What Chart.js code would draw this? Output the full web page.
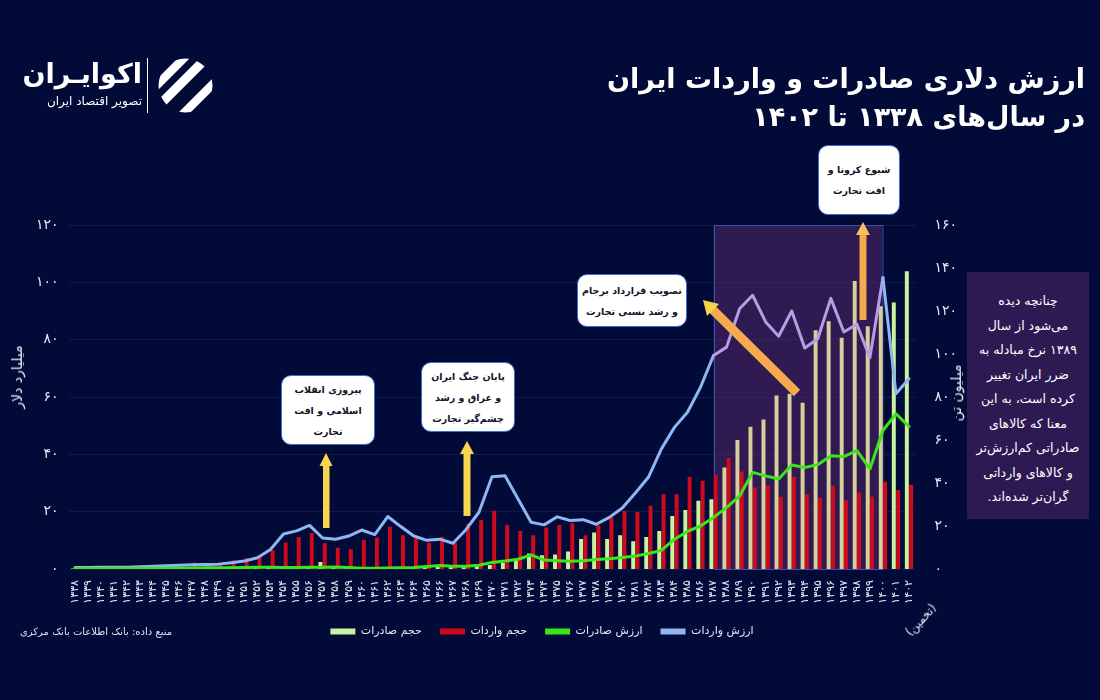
<!DOCTYPE html>
<html lang="fa">
<head>
<meta charset="utf-8">
<script src="https://cdn.jsdelivr.net/npm/chart.js@4.4.1/dist/chart.umd.min.js"></script>
<style>
html,body{margin:0;padding:0;background:#020a38;}
#wrap{position:relative;width:1100px;height:700px;overflow:hidden;background:#020a38;font-family:"DejaVu Sans",sans-serif;}
#c{position:absolute;left:0;top:0;}
.abs{position:absolute;white-space:nowrap;}
.title{right:15px;top:60px;color:#fff;font-weight:bold;font-size:27px;line-height:38px;text-align:right;direction:rtl;}
.note{position:absolute;box-sizing:border-box;background:#fff;border:1.5px solid #3d6fc9;border-radius:10px;color:#15152a;font-weight:bold;font-size:9.5px;line-height:21px;text-align:center;direction:rtl;display:flex;align-items:center;justify-content:center;white-space:nowrap;}
.rot{color:#e8e9f2;font-size:14px;transform:translate(-50%,-50%) rotate(-90deg);direction:rtl;}
#side{left:967px;top:272px;width:122px;height:247px;background:#2e1a53;color:#fff;font-size:12.5px;line-height:24.5px;text-align:center;direction:rtl;padding-top:17px;box-sizing:border-box;white-space:nowrap;}
</style>
</head>
<body>
<div id="wrap">
  <canvas id="c" width="1100" height="700"></canvas>

  <div class="abs title">ارزش دلاری صادرات و واردات ایران<br>در سال‌های ۱۳۳۸ تا ۱۴۰۲</div>

  <div class="abs" style="left:10px;top:55px;width:132px;text-align:right;direction:rtl;color:#fff;">
    <div style="font-size:27px;font-weight:bold;line-height:37px;">اکوایـران</div>
    <div style="font-size:12px;line-height:18px;">تصویر اقتصاد ایران</div>
  </div>
  <div class="abs" style="left:147px;top:58px;width:1px;height:55px;background:#fff;"></div>
  <svg class="abs" style="left:157px;top:57px;" width="57" height="57" viewBox="0 0 57 57">
    <defs><clipPath id="cc"><circle cx="28.5" cy="28.5" r="27"/></clipPath></defs>
    <g clip-path="url(#cc)" fill="#fff">
      <polygon points="0,22 22,0 34,0 0,34"/>
      <polygon points="4,40 40,4 48,9 9,48"/>
      <polygon points="20,57 57,20 57,32 32,57"/>
    </g>
  </svg>

  <div class="abs rot" style="left:17px;top:377px;">میلیارد دلار</div>
  <div class="abs rot" style="left:956px;top:393px;">میلیون تن</div>

  <div class="abs" style="left:921px;top:620px;color:#e8e9f2;font-size:11.5px;transform:translate(-50%,-50%) rotate(-47deg);direction:rtl;">(تخمین)</div>
  <div class="abs" style="left:20px;top:626px;color:#dfe0ea;font-size:10px;direction:rtl;">منبع داده: بانک اطلاعات بانک مرکزی</div>

  <div id="side" class="abs">چنانچه دیده<br>می‌شود از سال<br>۱۳۸۹ نرخ مبادله به<br>ضرر ایران تغییر<br>کرده است، به این<br>معنا که کالاهای<br>صادراتی کم‌ارزش‌تر<br>و کالاهای وارداتی<br>گران‌تر شده‌اند.</div>

  <svg class="abs" style="left:0;top:0;pointer-events:none;" width="1100" height="700">
    <rect x="323" y="465" width="6.5" height="63" fill="#f7d54c"/>
    <polygon points="319.5,466 332.5,466 326,453" fill="#f7d54c"/>
    <rect x="463.5" y="453" width="7" height="63" fill="#f7d54c"/>
    <polygon points="460,454 474,454 467,441" fill="#f7d54c"/>
    <line x1="797" y1="393" x2="711" y2="308" stroke="#f5aa50" stroke-width="9"/>
    <polygon points="703,300 719,304 707,316" fill="#f6d44a"/>
    <rect x="859.5" y="234" width="7" height="86" fill="#f5aa50"/>
    <polygon points="856,235 870,235 863,222" fill="#f7bf62"/>
  </svg>

  <div class="note" style="left:281px;top:375px;width:94px;height:70px;">پیروزی انقلاب<br>اسلامی و افت<br>تجارت</div>
  <div class="note" style="left:421px;top:362px;width:94px;height:70px;">پایان جنگ ایران<br>و عراق و رشد<br>چشم‌گیر تجارت</div>
  <div class="note" style="left:577px;top:274px;width:110px;height:53px;">تصویب قرارداد برجام<br>و رشد نسبی تجارت</div>
  <div class="note" style="left:818px;top:145px;width:82px;height:70px;">شیوع کرونا و<br>افت تجارت</div>
</div>

<script>
// ---------- data ----------
const years = ['۱۳۳۸','۱۳۳۹','۱۳۴۰','۱۳۴۱','۱۳۴۲','۱۳۴۳','۱۳۴۴','۱۳۴۵','۱۳۴۶','۱۳۴۷',
  '۱۳۴۸','۱۳۴۹','۱۳۵۰','۱۳۵۱','۱۳۵۲','۱۳۵۳','۱۳۵۴','۱۳۵۵','۱۳۵۶','۱۳۵۷',
  '۱۳۵۸','۱۳۵۹','۱۳۶۰','۱۳۶۱','۱۳۶۲','۱۳۶۳','۱۳۶۴','۱۳۶۵','۱۳۶۶','۱۳۶۷',
  '۱۳۶۸','۱۳۶۹','۱۳۷۰','۱۳۷۱','۱۳۷۲','۱۳۷۳','۱۳۷۴','۱۳۷۵','۱۳۷۶','۱۳۷۷',
  '۱۳۷۸','۱۳۷۹','۱۳۸۰','۱۳۸۱','۱۳۸۲','۱۳۸۳','۱۳۸۴','۱۳۸۵','۱۳۸۶','۱۳۸۷',
  '۱۳۸۸','۱۳۸۹','۱۳۹۰','۱۳۹۱','۱۳۹۲','۱۳۹۳','۱۳۹۴','۱۳۹۵','۱۳۹۶','۱۳۹۷',
  '۱۳۹۸','۱۳۹۹','۱۴۰۰','۱۴۰۱','۱۴۰۲'];

// export volume (million tons, right axis)
const exportVolume = [0.2,0.2,0.3,0.3,0.3,0.4,0.4,0.5,0.5,0.6,
  0.7,0.8,1.2,1.4,1.0,0.8,0.8,0.6,0.8,3.3,
  0.5,0.4,0.4,0.5,0.6,0.6,0.8,1.0,1.2,1.2,
  1.3,1.5,1.9,2.9,4.0,7.2,6.4,6.8,8.1,13.9,
  17.0,13.9,15.7,12.9,14.9,17.7,24.7,27.4,31.7,32.5,
  47.2,60.0,66.2,69.5,80.7,81.5,77.3,111.0,115.2,107.6,
  134.0,112.9,122.2,123.9,138.5];

// import volume (million tons, right axis)
const importVolume = [0.6,1.4,0.7,0.8,0.9,1.7,1.6,1.3,1.5,2.9,
  2.0,2.5,4.0,5.0,6.1,8.7,12.3,14.9,16.7,12.0,
  9.9,9.2,13.5,14.6,19.7,15.7,14.1,12.2,14.9,12.2,
  21.1,22.8,27.1,20.5,17.7,15.7,19.3,20.5,21.3,15.7,
  20.4,24.0,27.0,26.5,29.4,34.8,34.8,42.9,41.0,43.7,
  51.6,45.4,37.9,39.0,33.6,42.9,34.8,33.0,38.7,32.0,
  35.6,33.6,40.6,36.7,39.2];

// export value (billion dollars, left axis)
const exportValue = [0.2,0.2,0.2,0.2,0.2,0.25,0.3,0.3,0.35,0.35,
  0.4,0.4,0.45,0.5,0.6,0.6,0.5,0.55,0.6,0.6,
  0.7,0.5,0.3,0.3,0.35,0.4,0.5,0.9,1.2,1.0,
  1.0,1.3,2.3,2.8,3.4,4.9,3.1,2.9,2.7,2.9,
  3.3,3.6,4.0,4.5,5.4,6.5,10.4,13.1,15.0,18.0,
  21.4,25.5,33.7,32.5,31.4,36.3,35.4,36.4,39.5,39.2,
  41.3,34.9,48.3,54.1,49.7];

// import value (billion dollars, left axis)
const importValue = [0.5,0.55,0.6,0.6,0.65,0.8,0.95,1.1,1.3,1.5,
  1.6,1.7,2.2,2.8,3.9,6.8,12.2,13.3,15.2,10.8,
  10.4,11.5,13.6,12.0,18.3,14.8,11.5,10.0,10.4,9.0,
  13.7,19.8,32.2,32.5,24.4,16.3,15.4,18.2,16.9,17.2,
  15.6,18.0,21.3,26.5,32.0,41.9,49.4,54.7,63.4,74.5,
  77.4,90.8,95.5,86.2,81.2,90.0,77.1,80.3,94.4,82.7,
  85.4,73.7,101.7,61.1,66.4];

const seriesNames = ['حجم صادرات','حجم واردات','ارزش صادرات','ارزش واردات'];
const leftTickLabels = ['۰','۲۰','۴۰','۶۰','۸۰','۱۰۰','۱۲۰'];
const rightTickLabels = ['۰','۲۰','۴۰','۶۰','۸۰','۱۰۰','۱۲۰','۱۴۰','۱۶۰'];

// highlighted period: 1387 .. 1400 (category indices)
const HL_FROM = 49, HL_TO = 62;

// ---------- styles ----------
const C = {
  exportBar:'#c8f1a0', exportBarHL:'#d8cf9c', importBar:'#cf0a1c',
  exportLine:'#3ce41b', importLine:'#8fb6f2', importLineHL:'#b49ee6',
  grid:'rgba(95,115,200,0.16)', text:'#e8e9f2'
};
Chart.defaults.font.family = "'DejaVu Sans', sans-serif";

const highlightPlugin = {
  id:'highlight',
  beforeDatasetsDraw(chart){
    const {ctx, chartArea, scales} = chart;
    const x0 = scales.x.getPixelForValue(HL_FROM);
    const x1 = scales.x.getPixelForValue(HL_TO) - 1;
    const y0 = scales.yL.getPixelForValue(scales.yL.max);
    const y1 = chartArea.bottom;
    ctx.save();
    ctx.fillStyle = 'rgba(100,45,112,0.46)';
    ctx.fillRect(x0, y0, x1 - x0, y1 - y0);
    ctx.strokeStyle = '#3656aa';
    ctx.lineWidth = 1;
    ctx.strokeRect(Math.round(x0) + 0.5, Math.round(y0) + 0.5, x1 - x0, y1 - y0);
    ctx.restore();
  }
};
const legendShift = {
  id:'legendShift',
  afterLayout(chart){ if (chart.legend){ chart.legend.left += 50; chart.legend.right += 50; } }
};

const legendFills = [C.exportBar, C.importBar, C.exportLine, C.importLine];

new Chart(document.getElementById('c'), {
  type:'bar',
  data:{
    labels: years,
    datasets:[
      {type:'bar', label:seriesNames[0], data:exportVolume, yAxisID:'yR', order:1,
       backgroundColor:(c)=> (c.dataIndex > HL_FROM && c.dataIndex <= HL_TO) ? C.exportBarHL : C.exportBar,
       categoryPercentage:0.66, barPercentage:0.92},
      {type:'bar', label:seriesNames[1], data:importVolume, yAxisID:'yR', order:1,
       backgroundColor:C.importBar, categoryPercentage:0.66, barPercentage:0.92},
      {type:'line', label:seriesNames[2], data:exportValue, yAxisID:'yL', order:0,
       borderColor:C.exportLine, backgroundColor:C.exportLine, borderWidth:3, pointRadius:0,
       tension:0, borderJoinStyle:'round', borderCapStyle:'round'},
      {type:'line', label:seriesNames[3], data:importValue, yAxisID:'yL', order:0,
       borderColor:C.importLine, backgroundColor:C.importLine, borderWidth:3, pointRadius:0,
       tension:0, borderJoinStyle:'round', borderCapStyle:'round',
       segment:{borderColor:(s)=> (s.p0DataIndex >= HL_FROM && s.p1DataIndex <= HL_TO) ? C.importLineHL : undefined}}
    ]
  },
  options:{
    responsive:false, animation:false, devicePixelRatio:1,
    layout:{padding:{left:28.5, right:144.5, top:225, bottom:53}},
    plugins:{
      tooltip:{enabled:false},
      legend:{
        position:'bottom',
        labels:{
          color:C.text, font:{size:11}, boxWidth:25, boxHeight:6, padding:18,
          sort:(a,b)=> a.datasetIndex - b.datasetIndex,
          generateLabels(chart){
            const items = Chart.defaults.plugins.legend.labels.generateLabels(chart);
            items.forEach(it=>{ const f = legendFills[it.datasetIndex]; it.fillStyle = f; it.strokeStyle = f; it.lineWidth = 0; });
            return items;
          }
        }
      }
    },
    scales:{
      x:{
        grid:{display:false}, border:{display:false},
        ticks:{color:C.text, font:{size:11}, minRotation:90, maxRotation:90, autoSkip:false, padding:3},
        afterFit(s){ s.height = 39; }
      },
      yL:{
        position:'left', min:0, max:120,
        ticks:{stepSize:20, color:C.text, font:{size:14}, padding:10, callback:(v)=> leftTickLabels[Math.round(v/20)]},
        grid:{color:C.grid, drawTicks:false}, border:{display:false},
        afterFit(s){ s.width = 40; }
      },
      yR:{
        position:'right', min:0, max:160,
        ticks:{stepSize:20, color:C.text, font:{size:14}, padding:11, callback:(v)=> rightTickLabels[Math.round(v/20)]},
        grid:{display:false}, border:{display:false},
        afterFit(s){ s.width = 40; }
      }
    }
  },
  plugins:[highlightPlugin, legendShift]
});
</script>
</body>
</html>
